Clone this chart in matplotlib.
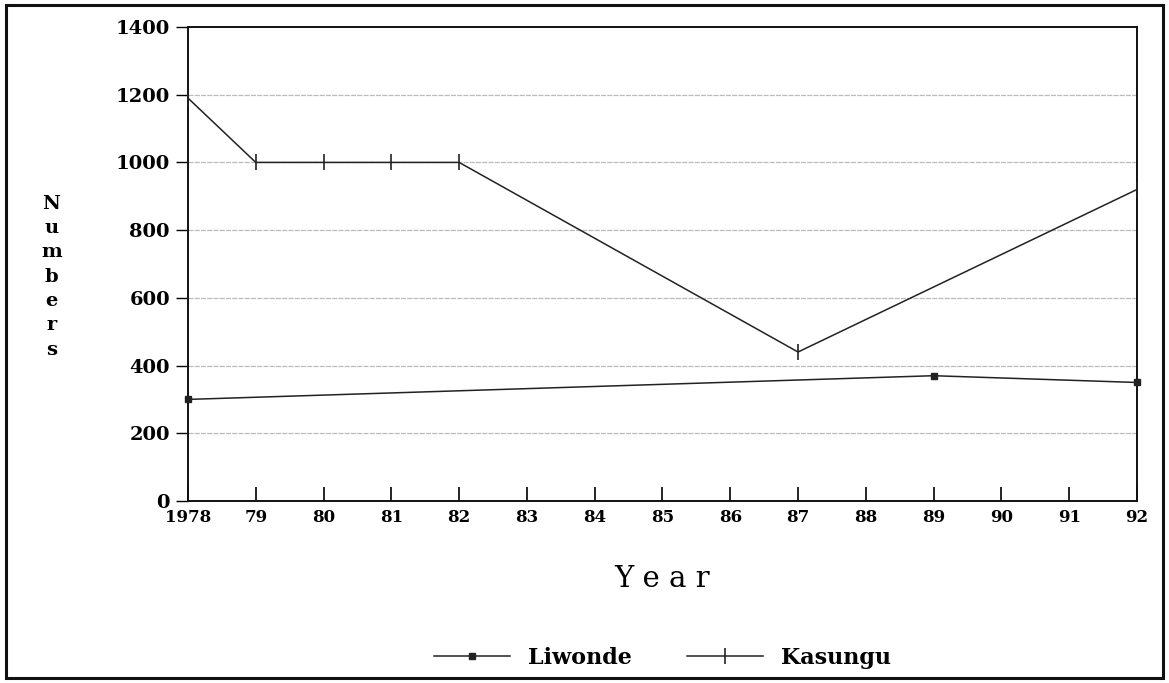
import numpy as np
from matplotlib import pyplot as plt
from matplotlib.patches import Rectangle

# categories on the x axis (evenly spaced, not true years)
years = ['1978', '79', '80', '81', '82', '83', '84', '85', '86', '87',
         '88', '89', '90', '91', '92']

# Liwonde counts
liwonde_years = ['1978', '89', '92']
liwonde_vals = [300, 370, 350]

# Kasungu counts
kasungu_years = ['1978', '79', '80', '81', '82', '87', '92']
kasungu_vals = [1190, 1000, 1000, 1000, 1000, 440, 920]

yticks = [0, 200, 400, 600, 800, 1000, 1200, 1400]

plt.rcParams['font.family'] = 'DejaVu Serif'
plt.rcParams['font.weight'] = 'bold'

fig = plt.figure(figsize=(11.69, 6.83), dpi=100)
ax = fig.add_axes([0.1608, 0.2665, 0.9726 - 0.1608, 0.9605 - 0.2665])

pos = {y: i for i, y in enumerate(years)}
lx = [pos[y] for y in liwonde_years]
kx = [pos[y] for y in kasungu_years]

ax.plot(lx, liwonde_vals, color='#222222', lw=1.1, marker='s', ms=4,
        label='Liwonde', clip_on=False, zorder=3)
ax.plot(kx, kasungu_vals, color='#222222', lw=1.1, marker='|', ms=11,
        mew=1.2, label='Kasungu', clip_on=False, zorder=3)

ax.set_xlim(0, len(years) - 1)
ax.set_ylim(0, 1400)
ax.set_xticks(range(len(years)))
ax.set_xticklabels(years)
ax.set_yticks(yticks)
ax.tick_params(axis='x', direction='in', length=10, width=1.2, labelsize=12, pad=6)
ax.tick_params(axis='y', direction='out', length=9, width=1, labelsize=14, pad=4)

for v in yticks[1:-1]:
    ax.axhline(v, color='#bbbbbb', lw=0.9, ls=(0, (4, 1)), zorder=1)

for s in ax.spines.values():
    s.set_linewidth(1.4)
    s.set_color('#111111')

ax.set_xlabel('Y e a r', fontsize=21, labelpad=28)

# vertical stacked y label
fig.text(0.044, 0.595, '\n'.join('Numbers'), ha='center', va='center',
         fontsize=14, linespacing=1.45)

ax.legend(loc='upper center', bbox_to_anchor=(0.5, -0.265), ncol=2,
          frameon=False, fontsize=16, handlelength=3.4, columnspacing=2.5)

# border round the whole figure
fig.patches.append(Rectangle((0.005, 0.008), 0.99, 0.985, transform=fig.transFigure,
                             fill=False, lw=2.2, color='#111111'))

fig.savefig('out.png', dpi=100)
